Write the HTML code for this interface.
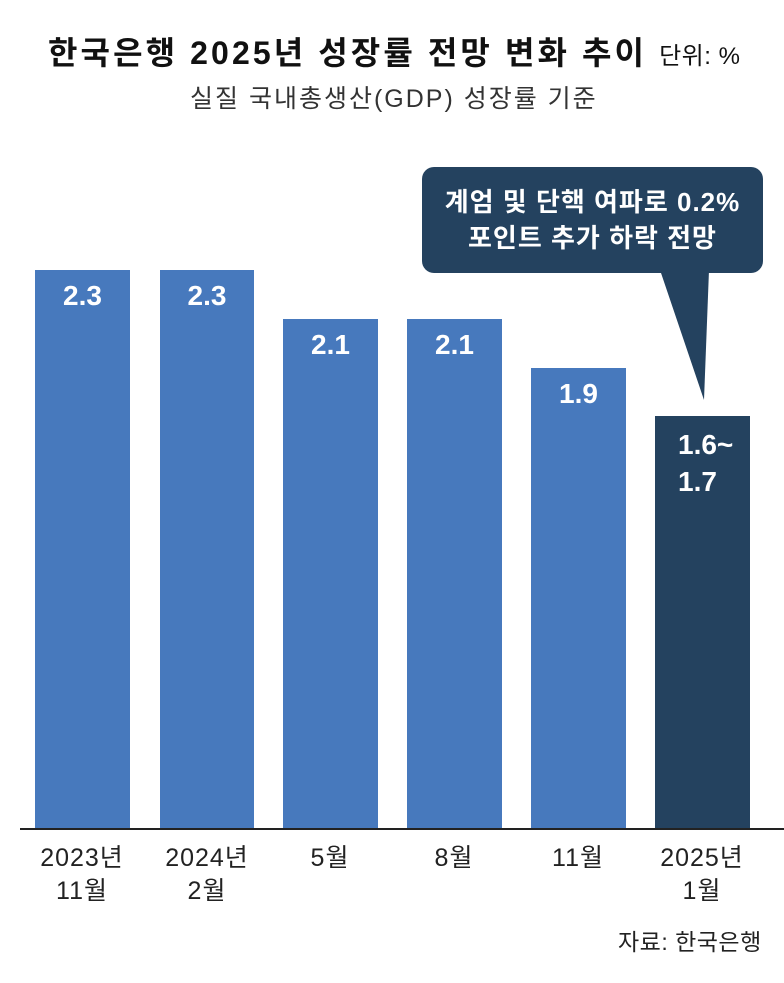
<!DOCTYPE html>
<html><head><meta charset="utf-8"><style>
body{margin:0;width:784px;height:983px;background:#fff;position:relative;overflow:hidden;font-family:"Liberation Sans","Noto Sans CJK KR",sans-serif;}
.a{position:absolute;white-space:nowrap;}
.bar{position:absolute;background:#4779bd;}
.v{position:absolute;color:#fff;font-weight:bold;font-size:28px;text-align:center;}
.x{position:absolute;font-size:25px;letter-spacing:1px;color:#222;text-align:center;line-height:33px;width:130px;}
</style></head><body>
<div class="a" style="left:48px;top:28px;font-size:32px;letter-spacing:3.1px;font-weight:bold;color:#111;">한국은행 2025년 성장률 전망 변화 추이 <span style="font-size:24px;font-weight:normal;letter-spacing:0.5px">단위: %</span></div>
<div class="a" style="left:190px;top:79px;font-size:25px;letter-spacing:2px;color:#333;">실질 국내총생산(GDP) 성장률 기준</div>

<div class="bar" style="left:35px;top:270px;width:95px;height:558px"></div>
<div class="bar" style="left:160px;top:270px;width:94px;height:558px"></div>
<div class="bar" style="left:283px;top:319px;width:95px;height:509px"></div>
<div class="bar" style="left:407px;top:319px;width:95px;height:509px"></div>
<div class="bar" style="left:531px;top:368px;width:95px;height:460px"></div>
<div class="bar" style="left:655px;top:416px;width:95px;height:412px;background:#24425f"></div>
<div style="position:absolute;left:20px;top:828px;width:764px;height:2px;background:#222"></div>

<div class="v" style="left:35px;top:280px;width:95px">2.3</div>
<div class="v" style="left:160px;top:280px;width:94px">2.3</div>
<div class="v" style="left:283px;top:329px;width:95px">2.1</div>
<div class="v" style="left:407px;top:329px;width:95px">2.1</div>
<div class="v" style="left:531px;top:378px;width:95px">1.9</div>
<div class="v" style="left:678px;top:426px;line-height:37px;text-align:left">1.6~<br>1.7</div>

<svg style="position:absolute;left:0;top:0" width="784" height="983">
<rect x="422" y="167" width="341" height="106" rx="12" fill="#24425f"/>
<polygon points="660,270 709,270 704,400" fill="#24425f"/>
</svg>
<div class="a" style="left:422px;top:184px;width:341px;text-align:center;color:#fff;font-weight:bold;font-size:26px;letter-spacing:1px;line-height:36px;">계엄 및 단핵 여파로 0.2%<br>포인트 추가 하락 전망</div>

<div class="x" style="left:17px;top:842px">2023년<br>11월</div>
<div class="x" style="left:142px;top:842px">2024년<br>2월</div>
<div class="x" style="left:265px;top:842px">5월</div>
<div class="x" style="left:389px;top:842px">8월</div>
<div class="x" style="left:513px;top:842px">11월</div>
<div class="x" style="left:637px;top:842px">2025년<br>1월</div>
<div class="a" style="left:618px;top:923px;font-size:23px;letter-spacing:0.5px;color:#222">자료: 한국은행</div>
</body></html>
